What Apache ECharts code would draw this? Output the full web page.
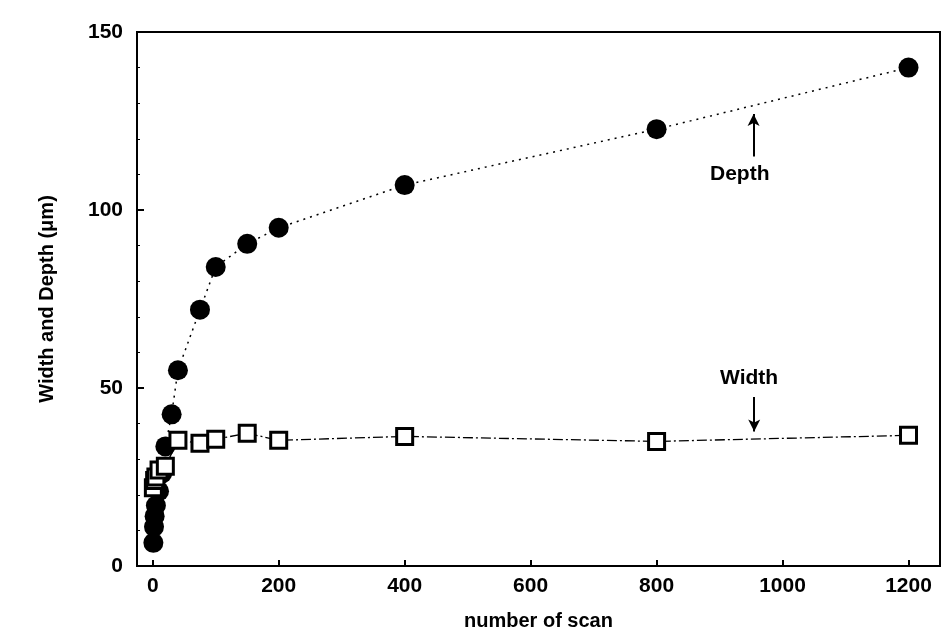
<!DOCTYPE html>
<html>
<head>
<meta charset="utf-8">
<script src="https://cdn.jsdelivr.net/npm/echarts@6/dist/echarts.min.js"></script>
<style>
html, body { margin: 0; padding: 0; background: #fff; }
#main { width: 947px; height: 639px; }
</style>
</head>
<body>
<div id="main"></div>
<script>
// number of scans and measured values (um)
var depthScans = [1, 2, 3, 5, 10, 15, 20, 30, 40, 75, 100, 150, 200, 400, 800, 1200];
var depthVals = [6.5, 11, 14, 17, 21, 26, 33.6, 42.6, 55, 72, 84, 90.5, 95, 107, 122.7, 140];
var widthScans = [1, 3, 5, 10, 20, 40, 75, 100, 150, 200, 400, 800, 1200];
var widthVals = [22, 24, 25, 27, 28, 35.3, 34.5, 35.6, 37.3, 35.3, 36.4, 35, 36.7];
var xTicks = [0, 200, 400, 600, 800, 1000, 1200];

var toPairs = function (xs, ys) {
    return xs.map(function (x, i) { return [x, ys[i]]; });
};

var fontFam = '"Liberation Sans", Arial, sans-serif';
var chart = echarts.init(document.getElementById('main'), null, { renderer: 'canvas' });

chart.setOption({
    animation: false,
    backgroundColor: '#fff',
    grid: {
        left: 137, top: 32, right: 7, bottom: 73,
        show: true, borderColor: '#000', borderWidth: 2, backgroundColor: 'transparent'
    },
    xAxis: {
        type: 'value',
        min: -25,
        max: 1250,
        name: 'number of scan',
        nameLocation: 'middle',
        nameGap: 45,
        nameTextStyle: { fontSize: 20, fontWeight: 'bold', color: '#000', fontFamily: fontFam },
        axisLine: { show: true, onZero: false, lineStyle: { color: '#000', width: 2 } },
        axisTick: { show: true, inside: true, length: 6, customValues: xTicks, lineStyle: { color: '#000', width: 2 } },
        axisLabel: {
            customValues: xTicks, margin: 10, fontSize: 21, fontWeight: 'bold', color: '#000', fontFamily: fontFam,
            formatter: function (v) { return String(v); }
        },
        splitLine: { show: false }
    },
    yAxis: {
        type: 'value',
        min: 0,
        max: 150,
        interval: 50,
        name: 'Width and Depth (\u03bcm)',
        nameLocation: 'middle',
        nameGap: 80,
        nameTextStyle: { fontSize: 20, fontWeight: 'bold', color: '#000', fontFamily: fontFam },
        axisLine: { show: true, onZero: false, lineStyle: { color: '#000', width: 2 } },
        axisTick: { show: true, inside: true, length: 7, lineStyle: { color: '#000', width: 2 } },
        minorTick: { show: true, splitNumber: 5, length: 3, lineStyle: { color: '#000' } },
        axisLabel: { margin: 14, fontSize: 21, fontWeight: 'bold', color: '#000', fontFamily: fontFam },
        splitLine: { show: false }
    },
    series: [
        {
            name: 'Depth',
            type: 'line',
            data: toPairs(depthScans, depthVals),
            symbol: 'circle',
            symbolSize: 20,
            itemStyle: { color: '#000' },
            lineStyle: { color: '#000', width: 1.5, type: [2, 5] },
            markLine: {
                silent: true,
                symbol: ['none', 'arrow'],
                symbolSize: [9, 12],
                label: { show: false },
                lineStyle: { color: '#000', width: 2, type: 'solid' },
                data: [[{ coord: [954, 115] }, { coord: [954, 127] }]]
            }
        },
        {
            name: 'Width',
            type: 'line',
            data: toPairs(widthScans, widthVals),
            symbol: 'rect',
            symbolSize: 16,
            itemStyle: { color: '#fff', borderColor: '#000', borderWidth: 3 },
            lineStyle: { color: '#000', width: 1.3, type: [10, 3, 2, 3] },
            markLine: {
                silent: true,
                symbol: ['none', 'arrow'],
                symbolSize: [9, 12],
                label: { show: false },
                lineStyle: { color: '#000', width: 2, type: 'solid' },
                data: [[{ coord: [955, 47.5] }, { coord: [955, 37.8] }]]
            }
        }
    ],
    graphic: [
        { type: 'text', left: 710, top: 164, style: { text: 'Depth', fontSize: 21, fontWeight: 'bold', fill: '#000', fontFamily: fontFam } },
        { type: 'text', left: 720, top: 368, style: { text: 'Width', fontSize: 21, fontWeight: 'bold', fill: '#000', fontFamily: fontFam } }
    ]
});
</script>
</body>
</html>
